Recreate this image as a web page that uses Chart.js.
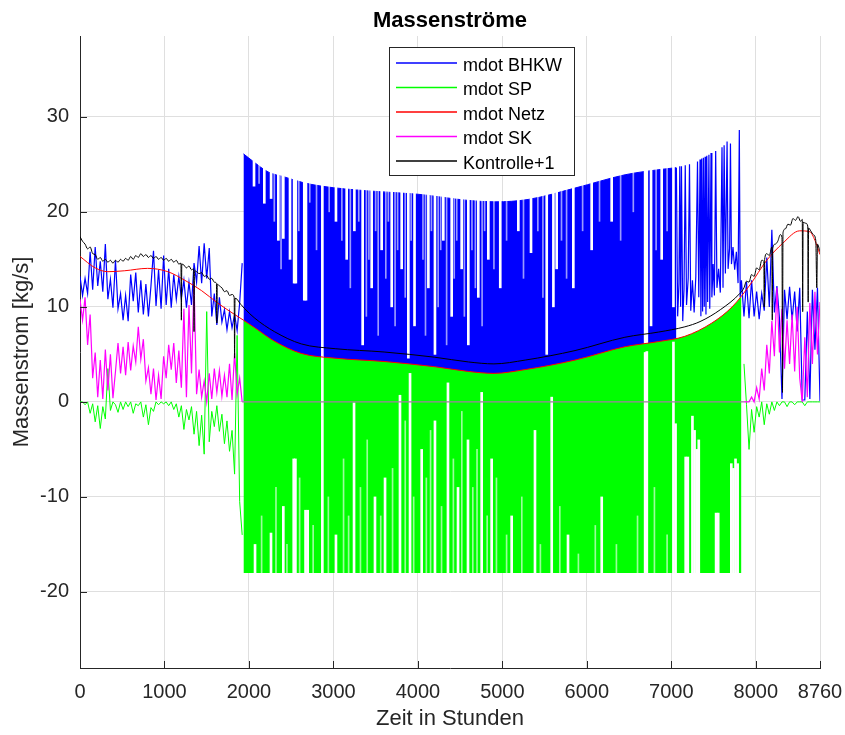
<!DOCTYPE html>
<html>
<head>
<meta charset="utf-8">
<title>Massenströme</title>
<script src="https://cdn.jsdelivr.net/npm/chart.js@4.4.1/dist/chart.umd.min.js"></script>
<style>
  html, body { margin: 0; padding: 0; background: #fff; }
</style>
</head>
<body>
<canvas id="chart" width="845" height="735"></canvas>
<script>
// ---- data (hours / kg/s) ----
const chartTitle = 'Massenströme';
const xTitle = 'Zeit in Stunden';
const yTitle = 'Massenstrom [kg/s]';
const xTicks = [0, 1000, 2000, 3000, 4000, 5000, 6000, 7000, 8000, 8760];
const yTicks = [-20, -10, 0, 10, 20, 30];
const seriesNames = ['mdot BHKW', 'mdot SP', 'mdot Netz', 'mdot SK', 'Kontrolle+1'];

// noisy winter part at the start of the year
const hLeft = [0,30,60,90,120,150,180,210,240,270,300,330,360,390,420,450,480,510,540,570,
  600,630,660,690,720,750,780,810,840,870,900,930,960,990,1020,1050,1080,1110,1140,1170,
  1200,1230,1260,1290,1320,1350,1380,1410,1440,1470,1500,1530,1560,1590,1620,1650,1680,1710,1740,1770,
  1800,1830,1860,1890,1920];
const bhkwLeft = [13.2,11.2,13.0,11.4,15.8,11.8,16.3,12.2,14.8,11.6,
  16.6,10.8,12.9,9.9,14.9,9.8,11.4,8.6,11.2,8.5,
  13.4,10.6,13.6,9.4,12.8,9.2,12.4,9.0,12.2,15.9,
  10.1,13.9,9.8,15.4,10.2,14.0,9.9,13.4,10.8,13.2,
  10.9,12.8,9.9,12.6,10.2,14.6,12.6,16.4,12.5,16.7,
  13.0,16.2,9.0,11.4,8.1,11.0,8.4,9.7,7.6,9.5,
  7.8,9.2,7.5,10.4,14.6];
const spLeft = [0,0,-0.3,0,-1.2,-0.2,-2.1,-0.4,-2.8,-0.5,
  -1.8,3.5,-0.9,0,-0.3,-1.1,0,-0.8,0,-0.5,
  0,-1.2,-0.2,-0.4,0,-1.6,-0.3,-2.4,-0.6,-1.0,
  0,-0.3,0,-0.2,0,-0.4,0,-0.8,-0.2,-1.6,
  -0.4,-2.9,-0.8,-1.9,-0.5,-3.4,-1.0,-4.6,-1.4,-5.5,
  9.5,-4.2,-1.0,-2.6,-0.4,-3.1,-1.3,-4.4,-2.0,-5.2,
  -3.0,-7.6,7.0,-10.5,-14.0];
const skLeft = [10.8,8.6,11.0,6.0,9.2,2.5,5.2,0.5,4.4,0.3,
  5.5,1.2,5.0,0.4,3.2,6.2,3.0,5.8,2.8,6.3,
  3.3,5.9,4.2,7.9,4.5,6.6,2.2,3.6,0.8,3.5,
  0.2,2.8,0.3,4.8,2.5,6.0,3.4,6.2,2.0,5.4,
  1.5,9.8,0.5,10.2,3.0,12.6,0.8,3.4,0.5,2.2,
  0,3.0,0.3,3.5,1.0,3.3,0.6,2.8,0.5,4.0,
  0.2,5.2,0.8,2.5,0];

// noisy winter part at the end of the year
const hRight = [7860,7890,7920,7950,7980,8010,8040,8070,8100,8130,8160,8190,8220,8250,8280,8310,
  8340,8370,8400,8430,8460,8490,8520,8550,8580,8610,8640,8670,8700,8730,8760];
const bhkwRight = [9.0,12.6,8.8,12.8,9.0,11.6,8.7,11.4,9.6,15.2,10.0,18.1,9.4,12.2,8.8,0.3,
  11.8,8.7,12.1,8.6,11.6,7.4,12.0,0.2,0.2,9.5,0.3,11.8,5.5,12.0,0.1];
const spRight = [4.0,-0.3,-5.0,-0.8,-3.2,-0.5,-1.6,0,-2.4,-0.2,-1.3,0,-0.9,0,-0.4,0,
  0,-0.5,0,0,-0.3,0,0,0,-0.4,0,0,0,0,0,0];
const skRight = [0,0,0,0.5,0,1.5,0.3,3.5,1.2,6.0,3.0,8.5,4.8,12.0,5.2,9.8,
  3.5,8.6,4.0,9.2,3.2,10.0,2.5,0,6.8,0.5,10.4,4.0,11.6,5.0,10.5];

// BHKW spikes on the edge of the summer block
const bhkwFringe = [[7060,24.6],[7075,9.0],[7090,12.4],[7100,24.8],[7110,10.0],[7120,24.8],[7135,8.5],
  [7150,11.8],[7165,24.9],[7180,10.2],[7200,13.0],[7215,25.0],[7230,9.6],[7250,12.8],[7270,9.4],
  [7290,13.2],[7310,25.3],[7325,11.0],[7340,25.5],[7350,9.0],[7360,25.6],[7370,9.5],[7380,25.7],
  [7390,10.0],[7400,25.8],[7410,9.2],[7420,25.9],[7430,10.5],[7445,26.0],[7455,9.8],[7470,26.2],
  [7480,11.0],[7495,14.5],[7510,11.2],[7525,26.4],[7540,12.0],[7560,14.0],[7580,11.5],[7600,26.8],
  [7612,12.0],[7625,27.0],[7640,13.5],[7660,27.4],[7672,14.0],[7690,16.2],[7700,27.2],[7712,14.5],
  [7730,16.3],[7750,13.9],[7770,15.8],[7790,12.5],[7805,28.6],[7815,11.0],[7830,12.8]];

// upper edge of the dense BHKW block and of the dense SP block
const bhkwBandTop = [[1935,26.1],[2050,25.3],[2226,24.2],[2427,23.65],[2630,23.1],[2860,22.7],
  [3410,22.2],[4000,21.85],[4595,21.2],[4914,21.05],[5305,21.3],[5860,22.5],[6453,23.9],
  [6690,24.25],[7060,24.65]];
const spBandTop = [[1935,8.6],[2070,7.8],[2300,6.4],[2620,5.1],[3020,4.6],[3600,4.25],[4200,3.7],
  [4600,3.2],[4900,3.0],[5270,3.4],[5860,4.4],[6450,5.8],[6850,6.35],[7160,6.9],[7480,8.3],
  [7720,10.0],[7830,11.1]];
const spFloor = -18;

// hours where BHKW is off (value it drops to) and SP is not at its floor (value it stays above)
const bhkwGaps = [[2060,22.7],[2182,20.9],[2262,21.4],[2348,17.0],[2407,17.2],[2486,15.0],
  [2535,12.5],[2555,12.5],[2655,10.7],[2675,10.7],[2869,0],[3030,19.0],[3157,15.0],[3248,18.0],
  [3346,6.0],[3453,12.0],[3571,16.0],[3690,10.0],[3808,14.0],[3887,4.6],[3960,8.0],[4124,12.0],
  [4202,5.0],[4301,17.0],[4400,9.0],[4518,14.0],[4597,6.0],[4715,11.0],[4834,15.0],[4975,12.0],
  [5189,18.0],[5339,15.7],[5525,5.0],[5604,10.0],[5643,14.0],[5840,12.0],[6057,16.0],[6294,19.0],
  [6690,0],[6710,0],[6760,8.0],[6886,15.0],[7025,10.0]];
const bhkwThinGaps = [[2120,23],[2300,19],[2380,14],[2590,18],[2720,21],[2800,16],[2950,20],
  [3100,17],[3200,12],[3300,19],[3390,9],[3420,15],[3500,18],[3530,7],[3620,13],[3650,19],
  [3730,8],[3760,16],[3850,11],[3920,17],[4060,15],[4090,7],[4160,18],[4240,10],[4270,16],
  [4340,6],[4430,13],[4460,17],[4550,9],[4640,16],[4680,12],[4760,8],[4790,18],[4900,14],
  [5050,17],[5250,13],[5420,18],[5480,11],[5700,17],[5760,13],[5950,18],[6150,19],[6400,17],
  [6550,20],[6820,16],[6950,18]];
const spGaps = [[2072,-15],[2261,-13.8],[2407,-11],[2530,-6],[2550,-6],[2670,-11.4],[2695,-11.4],
  [2869,4.8],[3030,-14],[3244,-0.1],[3492,-10],[3611,-8],[3788,0.7],[3907,3],[4045,-5],[4202,-2],
  [4356,2],[4475,-9],[4593,-4],[4755,1],[4873,-6],[5110,-12],[5386,-3],[5584,0.5],[5777,-14],
  [6176,-10],[6690,5.2],[6710,5.3],[7025,6.3],[7050,-2.3],[7170,-5.8],[7195,-5.8],[7250,-1.5],
  [7275,-3],[7300,-5],[7325,-4],[7530,-11.7],[7555,-11.7],[7710,-6.5],[7735,-7],[7760,-6],[7785,-6.5]];
const spThinGaps = [[2150,-12],[2320,-9],[2450,-15],[2600,-8],[2760,-13],[2940,-10],[3120,-6],
  [3180,-12],[3320,-9],[3400,-4],[3560,-12],[3700,-7],[3850,-2],[3950,-10],[4100,-8],[4150,-3],
  [4280,-11],[4420,-6],[4520,-1],[4650,-9],[4700,-5],[4820,-12],[4930,-8],[5050,-14],[5230,-10],
  [5450,-15],[5680,-11],[5900,-16],[6100,-13],[6350,-15],[6600,-12],[6800,-9],[6950,-14]];

const netz = [[0,15.3],[180,14.1],[330,13.7],[530,13.8],[800,14.05],[1040,13.7],[1240,12.8],
  [1440,11.7],[1630,10.4],[1830,9.2],[1935,8.6],[2070,7.8],[2300,6.4],[2620,5.1],[3020,4.6],
  [3600,4.25],[4200,3.7],[4600,3.2],[4900,3.0],[5270,3.4],[5860,4.4],[6450,5.8],[6850,6.35],
  [7160,6.9],[7480,8.3],[7720,10.0],[7930,12.3],[8130,14.9],[8320,16.7],[8520,18.0],[8640,17.9],
  [8700,17.0],[8760,15.5]];

const kontrolle = [[0,17.4],[30,16.9],[60,16.6],[90,16.1],[120,16.3],[150,15.6],[180,15.5],[210,15.0],
  [240,15.2],[270,14.8],[300,15.0],[330,14.7],[360,14.9],[390,14.6],[420,14.9],[450,14.7],[480,15.0],
  [510,14.8],[540,15.1],[570,14.9],[600,15.3],[630,15.0],[660,15.4],[690,15.2],[720,15.6],[750,15.3],
  [780,15.5],[810,15.2],[840,15.4],[870,15.1],[900,15.3],[930,15.0],[960,15.2],[990,14.9],[1020,15.1],
  [1050,14.8],[1080,15.0],[1110,14.7],[1140,14.9],[1170,14.5],[1195,14.6],[1200,8.6],[1205,14.5],
  [1230,14.4],[1260,14.1],[1290,14.3],[1320,13.9],[1345,14.0],[1350,7.4],[1355,13.8],[1380,13.7],
  [1410,13.5],[1440,13.6],[1470,13.2],[1500,13.3],[1530,12.9],[1560,13.0],[1590,12.6],[1615,12.5],
  [1620,8.3],[1625,12.4],[1650,12.2],[1680,12.0],[1710,11.6],[1740,11.7],[1770,11.2],[1800,11.3],
  [1825,11.0],[1830,4.6],[1835,10.9],[1860,10.8],[1890,10.4],[1920,10.1],[1950,9.8],[2070,8.8],
  [2300,7.4],[2620,6.1],[3020,5.6],[3600,5.25],[4200,4.7],[4600,4.2],[4900,4.0],[5270,4.4],
  [5860,5.4],[6450,6.8],[6850,7.35],[7160,7.9],[7340,8.45],[7580,9.7],[7810,11.4],[7860,12.0],
  [7890,12.7],[7920,12.6],[7950,13.4],[7980,13.2],[8010,14.1],[8040,13.9],[8070,14.9],[8095,14.8],
  [8100,10.0],[8105,15.0],[8130,15.6],[8160,15.4],[8190,16.3],[8195,8.6],[8200,16.1],[8230,16.6],
  [8260,16.9],[8290,17.6],[8310,17.3],[8316,1.0],[8322,17.8],[8350,18.2],[8380,18.7],[8410,18.6],
  [8440,19.3],[8470,19.1],[8500,19.5],[8530,19.0],[8550,19.2],[8555,9.5],[8560,18.9],[8590,18.8],
  [8615,18.5],[8620,10.5],[8625,18.3],[8650,18.0],[8680,17.6],[8710,17.0],[8722,12.0],[8730,16.6],
  [8760,15.8]];

// ---- helpers ----
const pts = (hs, vs) => hs.map((h, i) => ({x: h, y: vs[i]}));
const pairs = ps => ps.map(p => ({x: p[0], y: p[1]}));
const cut = h => ({x: h, y: null});

const FONT = '"Liberation Sans", Arial, Helvetica, sans-serif';
const AXIS = '#262626';

const colors = {bhkw: '#0000ff', sp: '#00ff00', netz: '#ff0000', sk: '#ff00ff', kontrolle: '#000000'};

function gapBars(label, list, thick, color, order, range) {
  return { type: 'bar', label, backgroundColor: color, borderWidth: 0, barThickness: thick,
    grouped: false, order, data: list.map(g => ({x: g[0], y: range(g[1])})) };
}

const datasets = [
  { label: seriesNames[0], legendItem: true, borderColor: colors.bhkw, order: 6, borderWidth: 1.2,
    data: [...pts(hLeft, bhkwLeft), cut(1928), ...pairs(bhkwFringe), ...pts(hRight, bhkwRight)] },
  { label: seriesNames[1], legendItem: true, borderColor: colors.sp, order: 4,
    data: [...pts(hLeft, spLeft), cut(1928), ...pts(hRight, spRight)] },
  { label: seriesNames[2], legendItem: true, borderColor: colors.netz, order: 2,
    cubicInterpolationMode: 'monotone', data: pairs(netz) },
  { label: seriesNames[3], legendItem: true, borderColor: colors.sk, order: 1, borderWidth: 1.2,
    segment: { borderColor: c => (c.p0.parsed.x >= 1920 && c.p1.parsed.x <= 7860) ? '#a47ca4' : undefined },
    data: [...pts(hLeft, skLeft), {x: 1950, y: 0}, {x: 7830, y: 0}, ...pts(hRight, skRight)] },
  { label: seriesNames[4], legendItem: true, borderColor: colors.kontrolle, order: 0,
    cubicInterpolationMode: 'monotone', data: pairs(kontrolle) },
  // dense blocks
  { label: 'bhkw block', borderColor: colors.bhkw, backgroundColor: colors.bhkw, fill: 'origin',
    cubicInterpolationMode: 'monotone', order: 8, data: pairs(bhkwBandTop) },
  gapBars('bhkw off', bhkwGaps, 2, '#ffffff', 7, v => [v, 29]),
  gapBars('bhkw off thin', bhkwThinGaps, 1, 'rgba(255,255,255,0.6)', 7, v => [v, 29]),
  { label: 'sp block', borderColor: colors.sp, borderWidth: 0, backgroundColor: colors.sp,
    fill: {value: spFloor}, cubicInterpolationMode: 'monotone', order: 5, data: pairs(spBandTop) },
  gapBars('sp not floor', spGaps, 2, '#ffffff', 3, v => [spFloor - 0.3, v]),
  gapBars('sp not floor thin', spThinGaps, 1, 'rgba(255,255,255,0.6)', 3, v => [spFloor - 0.3, v])
];

// title, MATLAB style legend box and inward tick marks
const decor = {
  id: 'decor',
  afterDraw(chart) {
    const {ctx, chartArea: a, scales: {x, y}} = chart;
    ctx.save();
    ctx.strokeStyle = AXIS;
    ctx.lineWidth = 1;
    ctx.beginPath();
    xTicks.forEach(v => {
      const px = Math.round(x.getPixelForValue(v)) + 0.5;
      ctx.moveTo(px, a.bottom);
      ctx.lineTo(px, a.bottom - 7);
    });
    yTicks.forEach(v => {
      const py = Math.round(y.getPixelForValue(v)) + 0.5;
      ctx.moveTo(a.left, py);
      ctx.lineTo(a.left + 7, py);
    });
    ctx.stroke();

    ctx.fillStyle = '#000';
    ctx.font = 'bold 22px ' + FONT;
    ctx.textAlign = 'center';
    ctx.textBaseline = 'alphabetic';
    ctx.fillText(chartTitle, (a.left + a.right) / 2, 27);

    // legend
    const items = chart.data.datasets.filter(d => d.legendItem);
    const bx = 389.5, by = 47.5, bw = 185, bh = 128;
    ctx.fillStyle = '#fff';
    ctx.fillRect(bx, by, bw, bh);
    ctx.strokeStyle = AXIS;
    ctx.lineWidth = 1;
    ctx.strokeRect(bx, by, bw, bh);
    ctx.font = '18px ' + FONT;
    ctx.textAlign = 'left';
    items.forEach((d, i) => {
      const cy = 64 + i * 24.5;
      ctx.strokeStyle = d.borderColor;
      ctx.lineWidth = 1.3;
      ctx.beginPath();
      ctx.moveTo(396, cy - 1);
      ctx.lineTo(457, cy - 1);
      ctx.stroke();
      ctx.fillStyle = '#000';
      ctx.fillText(d.label, 463, cy + 6.5);
    });
    ctx.restore();
  }
};

new Chart(document.getElementById('chart'), {
  type: 'line',
  data: { datasets },
  options: {
    responsive: false,
    animation: false,
    events: [],
    layout: { padding: { top: 36, right: 25, bottom: 0, left: 0 } },
    elements: { point: { radius: 0 }, line: { borderWidth: 1, tension: 0 } },
    plugins: { legend: { display: false }, title: { display: false }, tooltip: { enabled: false } },
    scales: {
      x: {
        type: 'linear', min: 0, max: 8760, offset: false,
        afterFit: s => { s.height = 67; s.paddingLeft = 0; s.paddingRight = 0; },
        afterBuildTicks: s => { s.ticks = xTicks.map(v => ({value: v})); },
        grid: { color: '#dfdfdf', drawTicks: false, offset: false },
        border: { color: AXIS, width: 1 },
        ticks: { autoSkip: false, maxRotation: 0, padding: 12, color: AXIS,
          font: { family: FONT, size: 20 }, callback: v => String(v) },
        title: { display: true, text: xTitle, color: AXIS, font: { family: FONT, size: 22 },
          padding: { top: 0, bottom: 3 } }
      },
      y: {
        min: -28, max: 38.5,
        afterFit: s => { s.width = 80; s.paddingTop = 0; s.paddingBottom = 0; },
        afterBuildTicks: s => { s.ticks = yTicks.map(v => ({value: v})); },
        grid: { color: '#dfdfdf', drawTicks: false, offset: false },
        border: { color: AXIS, width: 1 },
        ticks: { padding: 11, color: AXIS, font: { family: FONT, size: 20 }, callback: v => String(v) },
        title: { display: true, text: yTitle, color: AXIS, font: { family: FONT, size: 22 },
          padding: { top: 9, bottom: 0 } }
      }
    }
  },
  plugins: [decor]
});
</script>
</body>
</html>
